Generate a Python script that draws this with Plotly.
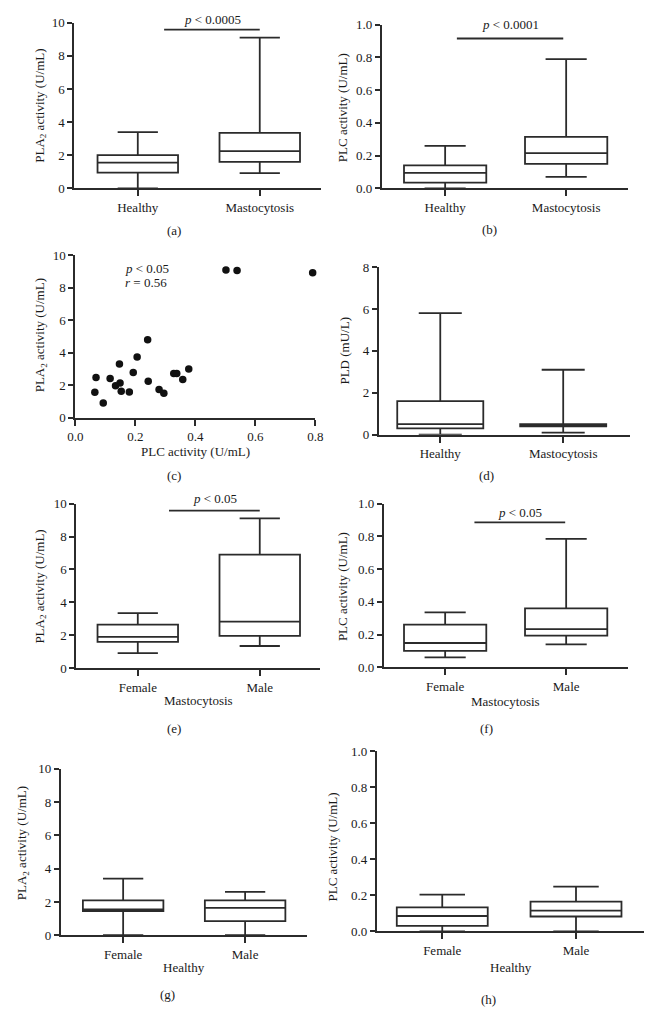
import plotly.graph_objects as go

W, H = 661, 1028
INK = "#2b2b2b"
FONT = dict(family="Liberation Serif, Times New Roman, serif", size=13, color="#1a1a1a")

# ---------------- data ----------------
cat_hm = ["Healthy", "Mastocytosis"]
cat_fm = ["Female", "Male"]

# (a) PLA2, healthy vs mastocytosis
a_min = [0.0, 0.92]
a_q1 = [0.95, 1.6]
a_med = [1.55, 2.25]
a_q3 = [2.0, 3.35]
a_max = [3.4, 9.1]

# (b) PLC, healthy vs mastocytosis
b_min = [0.0, 0.07]
b_q1 = [0.035, 0.15]
b_med = [0.095, 0.215]
b_q3 = [0.14, 0.315]
b_max = [0.26, 0.79]

# (c) scatter PLC vs PLA2
c_plc = [0.065, 0.069, 0.093, 0.116, 0.134, 0.149, 0.147, 0.153, 0.180, 0.193, 0.206,
         0.241, 0.243, 0.279, 0.295, 0.328, 0.338, 0.358, 0.378, 0.502, 0.539, 0.791]
c_pla2 = [1.58, 2.48, 0.91, 2.42, 1.98, 2.14, 3.31, 1.64, 1.60, 2.79, 3.74,
          4.81, 2.26, 1.74, 1.52, 2.73, 2.73, 2.36, 3.01, 9.09, 9.07, 8.93]

# (d) PLD, healthy vs mastocytosis
d_min = [0.0, 0.1]
d_q1 = [0.3, 0.4]
d_med = [0.5, 0.45]
d_q3 = [1.6, 0.5]
d_max = [5.8, 3.1]

# (e) PLA2, mastocytosis female vs male
e_min = [0.92, 1.35]
e_q1 = [1.6, 1.97]
e_med = [1.9, 2.83]
e_q3 = [2.65, 6.9]
e_max = [3.35, 9.1]

# (f) PLC, mastocytosis female vs male
f_min = [0.06, 0.14]
f_q1 = [0.10, 0.193]
f_med = [0.148, 0.233]
f_q3 = [0.26, 0.36]
f_max = [0.335, 0.785]

# (g) PLA2, healthy female vs male
g_min = [0.0, 0.0]
g_q1 = [1.45, 0.85]
g_med = [1.55, 1.65]
g_q3 = [2.1, 2.1]
g_max = [3.4, 2.6]

# (h) PLC, healthy female vs male
h_min = [0.0, 0.0]
h_q1 = [0.03, 0.082]
h_med = [0.085, 0.115]
h_q3 = [0.133, 0.165]
h_max = [0.203, 0.248]

# ---------------- layout geometry (pixels) ----------------
panels = {
    1: dict(px=(68, 321), py=(16, 184), xr=[-0.52, 1.504], yr=[0, 10], dt=2, fmt="d"),
    2: dict(px=(383, 635), py=(18, 184), xr=[-0.524, 1.508], yr=[0, 1.0], dt=0.2, fmt=".1f"),
    3: dict(px=(69, 315), py=(252, 417), xr=[0, 0.8], yr=[0, 10], dt=2, fmt="d"),
    4: dict(px=(380, 637), py=(264, 434), xr=[-0.5, 1.54], yr=[0, 8], dt=2, fmt="d"),
    5: dict(px=(70, 320), py=(504, 671), xr=[-0.504, 1.496], yr=[0, 10], dt=2, fmt="d"),
    6: dict(px=(385, 635), py=(504, 670), xr=[-0.508, 1.508], yr=[0, 1.0], dt=0.2, fmt=".1f"),
    7: dict(px=(54, 306), py=(773, 942), xr=[-0.512, 1.504], yr=[0, 10], dt=2, fmt="d"),
    8: dict(px=(378, 652), py=(755, 938), xr=[-0.489, 1.51], yr=[0, 1.0], dt=0.2, fmt=".1f"),
}

fig = go.Figure()


def ax(i):
    return ("x" if i == 1 else f"x{i}"), ("y" if i == 1 else f"y{i}")


def add_box(i, cats, mn, q1, med, q3, mx, width=0.66):
    xa, ya = ax(i)
    fig.add_trace(go.Box(
        x=cats, q1=q1, median=med, q3=q3, lowerfence=mn, upperfence=mx,
        xaxis=xa, yaxis=ya, width=width, whiskerwidth=0.5,
        line=dict(color=INK, width=1.8), fillcolor="rgba(255,255,255,0)",
        boxpoints=False, showlegend=False, hoverinfo="skip",
    ))


add_box(1, cat_hm, a_min, a_q1, a_med, a_q3, a_max)
add_box(2, cat_hm, b_min, b_q1, b_med, b_q3, b_max, width=0.68)
add_box(4, cat_hm, d_min, d_q1, d_med, d_q3, d_max, width=0.70)
add_box(5, cat_fm, e_min, e_q1, e_med, e_q3, e_max)
add_box(6, cat_fm, f_min, f_q1, f_med, f_q3, f_max, width=0.68)
add_box(7, cat_fm, g_min, g_q1, g_med, g_q3, g_max)
add_box(8, cat_fm, h_min, h_q1, h_med, h_q3, h_max, width=0.68)

fig.add_trace(go.Scatter(
    x=c_plc, y=c_pla2, mode="markers", xaxis="x3", yaxis="y3",
    marker=dict(color="#111111", size=7.5), showlegend=False, hoverinfo="skip",
    cliponaxis=False,
))

layout = dict(
    width=W, height=H, margin=dict(l=0, r=0, t=0, b=0),
    paper_bgcolor="white", plot_bgcolor="white", font=FONT, showlegend=False,
)
for i, p in panels.items():
    xa, ya = ax(i)
    xkey = "xaxis" if i == 1 else f"xaxis{i}"
    ykey = "yaxis" if i == 1 else f"yaxis{i}"
    dom_x = [p["px"][0] / W, p["px"][1] / W]
    dom_y = [1 - p["py"][1] / H, 1 - p["py"][0] / H]
    xcfg = dict(
        domain=dom_x, range=p["xr"], anchor=ya, showline=True, linecolor=INK, linewidth=1.8,
        ticks="outside", ticklen=6, tickwidth=1.8, tickcolor=INK, showgrid=False,
        zeroline=False, tickfont=FONT, fixedrange=True,
    )
    if i == 3:
        xcfg.update(tickmode="linear", tick0=0, dtick=0.2, tickformat=".1f")
    else:
        xcfg.update(type="category")
    layout[xkey] = xcfg
    layout[ykey] = dict(
        domain=dom_y, range=p["yr"], anchor=xa, showline=True, linecolor=INK, linewidth=1.8,
        ticks="outside", ticklen=5, tickwidth=1.8, tickcolor=INK, showgrid=False,
        zeroline=False, tickmode="linear", tick0=0, dtick=p["dt"], tickformat=p["fmt"],
        tickfont=FONT, fixedrange=True,
    )
fig.update_layout(**layout)


def paper_text(px, py, text, angle=0, anchor="center"):
    fig.add_annotation(xref="paper", yref="paper", x=px / W, y=1 - py / H, text=text,
                       showarrow=False, xanchor=anchor, yanchor="middle",
                       textangle=angle, font=FONT)


# significance bars (bar in data units, label in page pixels)
sig = [
    (1, 0.216, 1.0, 9.58, 210, 13, "<i>p</i> &lt; 0.0005"),
    (2, 0.097, 0.976, 0.916, 515, 18, "<i>p</i> &lt; 0.0001"),
    (5, 0.256, 1.0, 9.58, 212, 499, "<i>p</i> &lt; 0.05"),
    (6, 0.242, 0.992, 0.885, 525, 513, "<i>p</i> &lt; 0.05"),
]
for i, x0, x1, yb, tx, ty, txt in sig:
    xa, ya = ax(i)
    fig.add_shape(type="line", xref=xa, yref=ya, x0=x0, x1=x1, y0=yb, y1=yb,
                  line=dict(color=INK, width=1.8))
    paper_text(tx, ty, txt)

# scatter stats text
paper_text(118, 265, "<i>p</i> &lt; 0.05", anchor="left")
paper_text(118, 280, "<i>r</i> = 0.56", anchor="left")

# y-axis titles
paper_text(33, 100, "PLA<sub>2</sub> activity (U/mL)", -90)
paper_text(343, 102, "PLC activity (U/mL)", -90)
paper_text(33, 333, "PLA<sub>2</sub> activity (U/mL)", -90)
paper_text(345, 349, "PLD (mU/L)", -90)
paper_text(33, 588, "PLA<sub>2</sub> activity (U/mL)", -90)
paper_text(343, 588, "PLC activity (U/mL)", -90)
paper_text(15, 849, "PLA<sub>2</sub> activity (U/mL)", -90)
paper_text(333, 852, "PLC activity (U/mL)", -90)

# x-axis titles
paper_text(192, 451, "PLC activity (U/mL)")
paper_text(195, 704, "Mastocytosis")
paper_text(510, 705, "Mastocytosis")
paper_text(180, 975, "Healthy")
paper_text(515, 975, "Healthy")

# panel letters
paper_text(170, 227, "(a)")
paper_text(493, 226, "(b)")
paper_text(170, 475, "(c)")
paper_text(490, 475, "(d)")
paper_text(170, 732, "(e)")
paper_text(490, 732, "(f)")
paper_text(163, 1002, "(g)")
paper_text(492, 1007, "(h)")

fig.write_html("out.html", post_script="document.body.style.margin='0px';",
               config={"displayModeBar": False})
